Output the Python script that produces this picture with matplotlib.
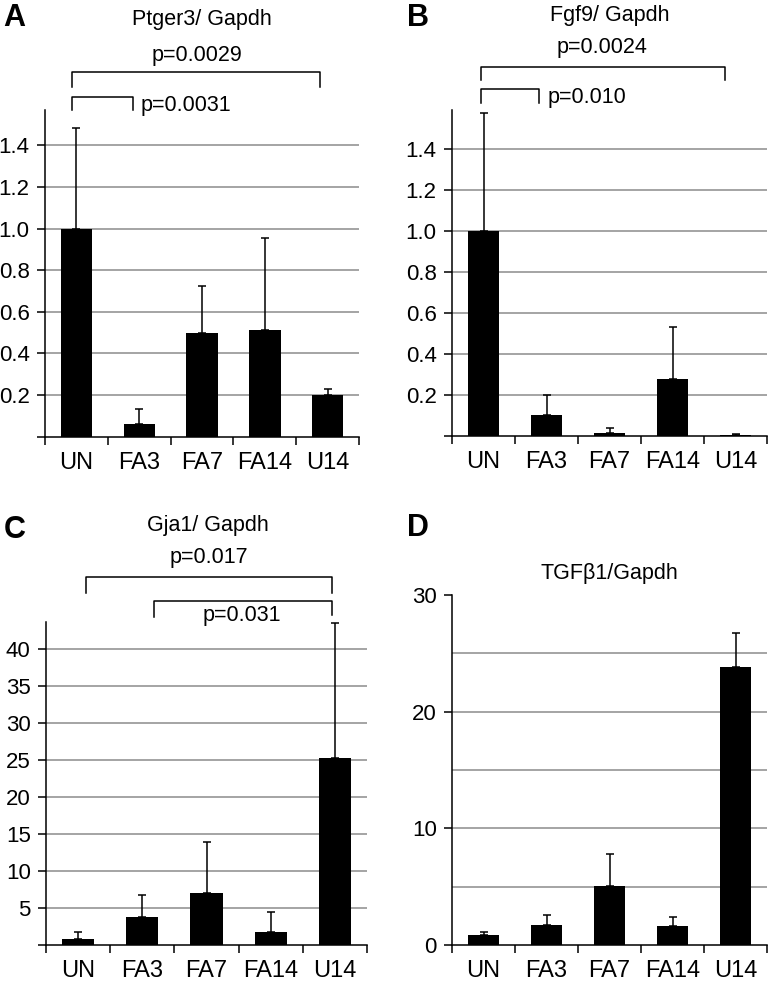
import numpy as np
import matplotlib
matplotlib.use("Agg")
import matplotlib.pyplot as plt

plt.rcParams['font.family'] = ['Liberation Sans', 'DejaVu Sans']

# Data
groups = ["UN", "FA3", "FA7", "FA14", "U14"]

ptger3_mean = [1.0, 0.06, 0.50, 0.51, 0.20]
ptger3_err = [0.485, 0.07, 0.225, 0.445, 0.03]

fgf9_mean = [1.0, 0.10, 0.015, 0.28, 0.003]
fgf9_err = [0.575, 0.10, 0.025, 0.25, 0.005]

gja1_mean = [0.8, 3.8, 7.0, 1.8, 25.3]
gja1_err = [1.0, 3.0, 7.0, 2.6, 18.2]

tgfb1_mean = [0.9, 1.7, 5.1, 1.6, 23.85]
tgfb1_err = [0.2, 0.9, 2.7, 0.8, 2.9]

W, H = 770, 985
fig = plt.figure(figsize=(W / 100, H / 100), dpi=100)

TICK_FS = 16
XLAB_FS = 17
TEXT_FS = 15.5
LETTER_FS = 22


def px_axes(left, top, right, bottom):
    return fig.add_axes([left / W, 1 - bottom / H, (right - left) / W, (bottom - top) / H])


def ftext(x, y, s, **kw):
    fig.text(x / W, 1 - y / H, s, **kw)


def bar_panel(ax, mean, err, ymax, ticks, labels, grid):
    x = np.arange(len(groups))
    for g in grid:
        ax.axhline(g, color="#8c8c8c", lw=1.1, zorder=0)
    ax.bar(x, mean, width=0.5, color="black", zorder=2)
    ax.errorbar(x, mean, yerr=[np.zeros(len(err)), err], fmt="none",
                ecolor="black", elinewidth=1.1, capsize=3, capthick=1.1, zorder=3)
    ax.set_xlim(-0.5, 4.5)
    ax.set_ylim(0, ymax)
    ax.set_yticks(ticks)
    ax.set_yticklabels(labels, fontsize=TICK_FS)
    ax.set_xticks(np.arange(-0.5, 5.0, 1.0))
    ax.set_xticklabels([])
    ax.set_xticks(x, minor=True)
    ax.set_xticklabels(groups, minor=True, fontsize=XLAB_FS)
    ax.tick_params(axis="x", which="minor", length=0, pad=11)
    ax.tick_params(axis="x", which="major", length=6, width=1.1, direction="out")
    ax.tick_params(axis="y", length=6, width=1.1, pad=5)
    for s in ["top", "right"]:
        ax.spines[s].set_visible(False)
    for s in ["left", "bottom"]:
        ax.spines[s].set_linewidth(1.1)
    ax.set_facecolor("none")


def bracket(ax, x0, x1, ytop, yl, yr):
    tr = ax.get_xaxis_transform()
    ax.plot([x0, x0, x1, x1], [yl, ytop, ytop, yr], color="black", lw=1.1,
            transform=tr, clip_on=False)


# Panel A
axA = px_axes(45, 110, 359, 436.5)
bar_panel(axA, ptger3_mean, ptger3_err, 1.57,
          [0, 0.2, 0.4, 0.6, 0.8, 1.0, 1.2, 1.4],
          ["", "0.2", "0.4", "0.6", "0.8", "1.0", "1.2", "1.4"],
          [0.2, 0.4, 0.6, 0.8, 1.0, 1.2, 1.4])
bracket(axA, -0.07, 3.88, 1.117, 1.070, 1.070)
bracket(axA, -0.07, 0.895, 1.0407, 1.0, 1.0)
ftext(3, 18, "A", fontsize=LETTER_FS, fontweight="bold", va="center", ha="left")
ftext(202, 20, "Ptger3/ Gapdh", fontsize=TEXT_FS, ha="center", va="center")
ftext(197, 55, "p=0.0029", fontsize=TEXT_FS, ha="center", va="center")
ftext(141, 105, "p=0.0031", fontsize=TEXT_FS, ha="left", va="center")

# Panel B
axB = px_axes(452, 110, 767, 436)
bar_panel(axB, fgf9_mean, fgf9_err, 1.59,
          [0, 0.2, 0.4, 0.6, 0.8, 1.0, 1.2, 1.4],
          ["", "0.2", "0.4", "0.6", "0.8", "1.0", "1.2", "1.4"],
          [0.2, 0.4, 0.6, 0.8, 1.0, 1.2, 1.4])
bracket(axB, -0.04, 3.84, 1.133, 1.092, 1.092)
bracket(axB, -0.04, 0.886, 1.0635, 1.0206, 1.0206)
ftext(407, 18, "B", fontsize=LETTER_FS, fontweight="bold", va="center", ha="left")
ftext(610, 16, "Fgf9/ Gapdh", fontsize=TEXT_FS, ha="center", va="center")
ftext(602, 47, "p=0.0024", fontsize=TEXT_FS, ha="center", va="center")
ftext(548, 97, "p=0.010", fontsize=TEXT_FS, ha="left", va="center")

# Panel C
axC = px_axes(46, 622, 367, 945)
bar_panel(axC, gja1_mean, gja1_err, 43.7,
          [0, 5, 10, 15, 20, 25, 30, 35, 40],
          ["", "5", "10", "15", "20", "25", "30", "35", "40"],
          [5, 10, 15, 20, 25, 30, 35, 40])
bracket(axC, 0.125, 3.96, 1.138, 1.089, 1.089)
bracket(axC, 1.19, 3.96, 1.066, 1.016, 1.022)
ftext(4, 530, "C", fontsize=LETTER_FS, fontweight="bold", va="center", ha="left")
ftext(208, 525, "Gja1/ Gapdh", fontsize=TEXT_FS, ha="center", va="center")
ftext(209, 558, "p=0.017", fontsize=TEXT_FS, ha="center", va="center")
ftext(242, 615, "p=0.031", fontsize=TEXT_FS, ha="center", va="center")

# Panel D
axD = px_axes(452, 595, 767, 945)
bar_panel(axD, tgfb1_mean, tgfb1_err, 30,
          [0, 10, 20, 30], ["0", "10", "20", "30"],
          [5, 10, 15, 20, 25])
ftext(407, 528, "D", fontsize=LETTER_FS, fontweight="bold", va="center", ha="left")
ftext(609, 573, "TGF\u03b21/Gapdh", fontsize=TEXT_FS, ha="center", va="center")

fig.savefig("out.png", dpi=100)
